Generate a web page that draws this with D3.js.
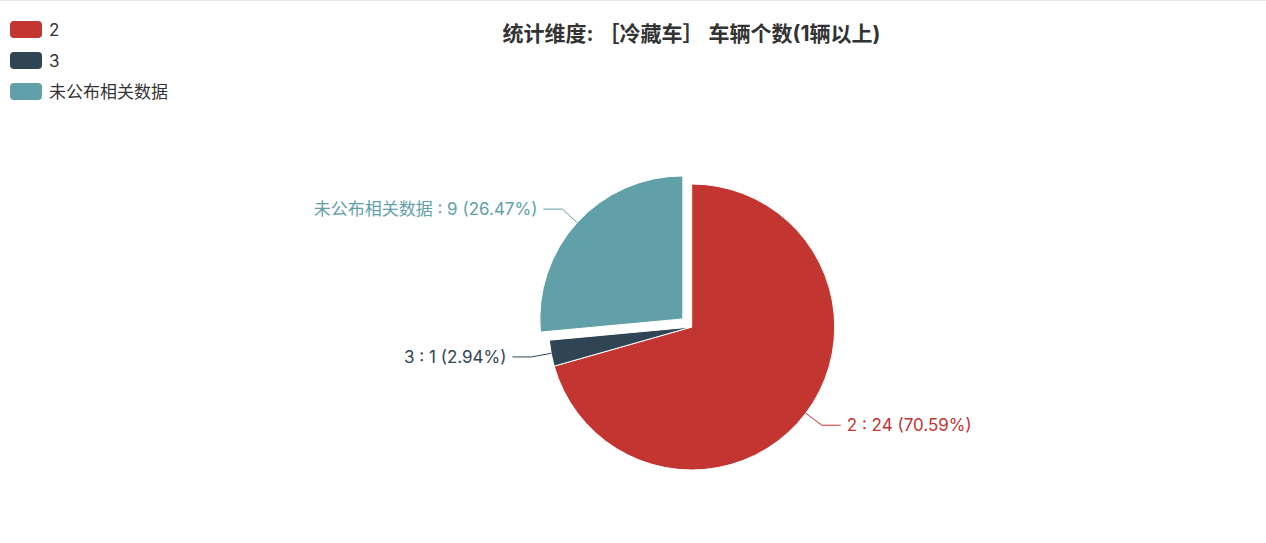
<!DOCTYPE html>
<html>
<head>
<meta charset="utf-8">
<script src="https://cdn.jsdelivr.net/npm/d3@7"></script>
<style>
  body { margin: 0; background: #fff; }
  svg { display: block; font-family: Inter, "Noto Sans CJK SC", sans-serif; }
</style>
</head>
<body>
<div id="chart"></div>
<script>
// Chart data
var categories = ["2", "3", "未公布相关数据"];
var counts = [24, 1, 9];
var colors = ["#c23531", "#2f4554", "#61a0a8"];
var selected = [false, false, true];
var titleText = "统计维度: ［冷藏车］ 车辆个数(1辆以上)";

var svgWidth = 1266;
var svgHeight = 543;

var center = { x: 691.7, y: 327 };
var radius = 143;
var selectedOffset = 12;

var svg = d3.select("#chart")
    .append("svg")
    .attr("width", svgWidth)
    .attr("height", svgHeight);

// thin top border line
svg.append("rect")
    .attr("x", 0)
    .attr("y", 0)
    .attr("width", svgWidth)
    .attr("height", 1)
    .attr("fill", "#e8e8e8");

// Title
svg.append("text")
    .attr("x", 691.5)
    .attr("y", 33)
    .attr("text-anchor", "middle")
    .attr("dominant-baseline", "central")
    .attr("font-size", 21)
    .attr("font-weight", "bold")
    .attr("fill", "#333")
    .text(titleText);

// Legend
var legend = svg.append("g")
    .attr("transform", "translate(10, 21)");

var legendItems = legend.selectAll("g")
    .data(categories)
    .enter()
    .append("g")
    .attr("transform", (d, i) => `translate(0, ${i * 31})`);

legendItems.append("rect")
    .attr("width", 32)
    .attr("height", 17)
    .attr("rx", 4)
    .attr("ry", 4)
    .attr("fill", (d, i) => colors[i]);

legendItems.append("text")
    .attr("x", 39)
    .attr("y", 9)
    .attr("dominant-baseline", "central")
    .attr("font-size", 17)
    .attr("fill", "#333")
    .text(d => d);

// Pie
var total = d3.sum(counts);
var pie = d3.pie().sort(null).value(d => d);
var arcs = pie(counts);

var arc = d3.arc().innerRadius(0).outerRadius(radius);

function midDir(d) {
    var a = (d.startAngle + d.endAngle) / 2;
    return { x: Math.sin(a), y: -Math.cos(a) };
}

var pieGroup = svg.append("g")
    .attr("transform", `translate(${center.x}, ${center.y})`);

var slices = pieGroup.selectAll("g.slice")
    .data(arcs)
    .enter()
    .append("g")
    .attr("class", "slice")
    .attr("transform", (d, i) => {
        if (!selected[i]) return null;
        var m = midDir(d);
        return `translate(${m.x * selectedOffset}, ${m.y * selectedOffset})`;
    });

slices.append("path")
    .attr("d", arc)
    .attr("fill", (d, i) => colors[i])
    .attr("stroke", "#fff")
    .attr("stroke-width", 1);

// Label lines and labels
var len1 = 20;
var len2 = 19;

slices.each(function (d, i) {
    var g = d3.select(this);
    var m = midDir(d);
    var p0 = [m.x * radius, m.y * radius];
    var p1 = [m.x * (radius + len1), m.y * (radius + len1)];
    var side = m.x >= 0 ? 1 : -1;
    var p2 = [p1[0] + side * len2, p1[1]];

    g.append("polyline")
        .attr("points", [p0, p1, p2].map(p => p.join(",")).join(" "))
        .attr("fill", "none")
        .attr("stroke", colors[i])
        .attr("stroke-width", 1);

    var pct = (d.value / total * 100).toFixed(2);
    g.append("text")
        .attr("x", p2[0] + side * 6)
        .attr("y", p2[1])
        .attr("text-anchor", side > 0 ? "start" : "end")
        .attr("dominant-baseline", "central")
        .attr("font-size", 17)
        .attr("fill", colors[i])
        .text(`${categories[i]} : ${d.value} (${pct}%)`);
});
</script>
</body>
</html>
